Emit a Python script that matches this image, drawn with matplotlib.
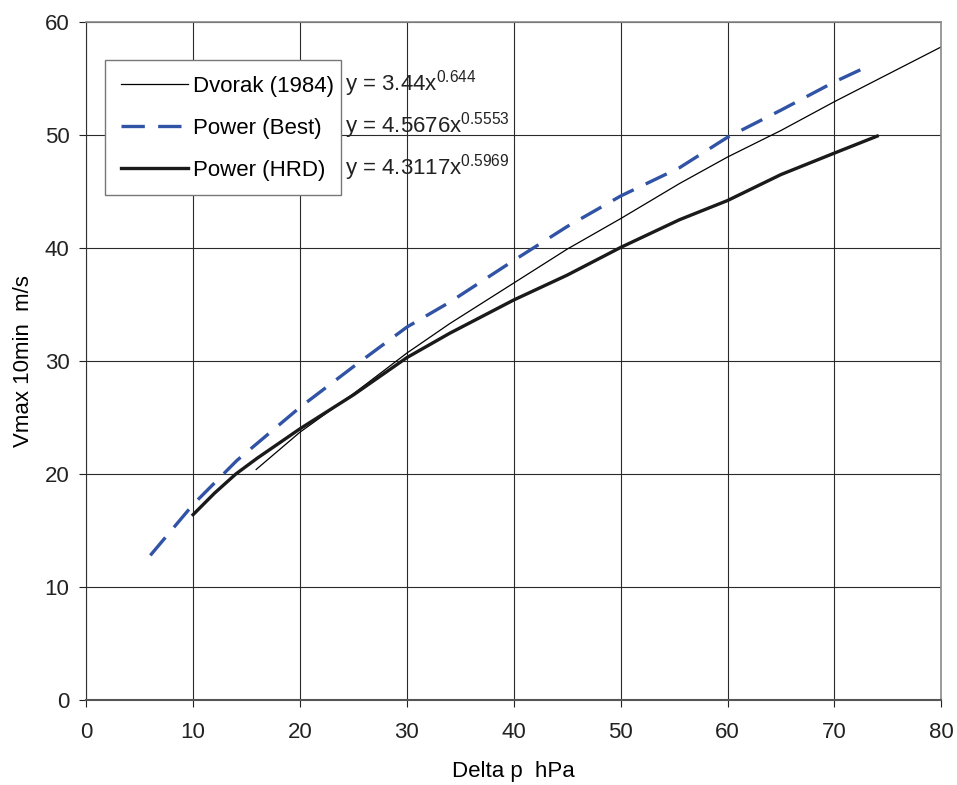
import matplotlib
matplotlib.use("Agg")
import matplotlib.pyplot as plt
from matplotlib.patches import Rectangle

plt.rcParams['font.family'] = ['Liberation Sans', 'DejaVu Sans']
plt.rcParams['mathtext.default'] = 'regular'

# Dvorak (1984)
dvorak_x = [15.9, 20, 25, 30, 34, 40, 45, 50, 55.5, 60, 65, 70, 80]
dvorak_y = [20.4, 23.7, 27.1, 30.7, 33.3, 36.9, 39.9, 42.6, 45.7, 48.05, 50.4, 52.95, 57.8]

# Power (Best)
best_x = [6, 10, 14.1, 20, 25, 30, 34, 40, 45, 50, 55.5, 60, 65, 70, 72.5]
best_y = [12.8, 17.3, 21.2, 25.9, 29.5, 33.0, 35.2, 38.9, 41.9, 44.6, 47.1, 49.8, 52.2, 54.7, 55.8]

# Power (HRD)
hrd_x = [10, 12, 14, 16, 20, 25, 30, 34, 40, 45, 50, 55.5, 60, 65, 70, 74]
hrd_y = [16.4, 18.3, 20.0, 21.4, 24.0, 27.0, 30.3, 32.45, 35.4, 37.6, 40.05, 42.5, 44.2, 46.5, 48.4, 49.9]

labels = ['Dvorak (1984)', 'Power (Best)', 'Power (HRD)']
equations = [r'y = 3.44x$^{0.644}$', r'y = 4.5676x$^{0.5553}$', r'y = 4.3117x$^{0.5969}$']

xticks = [0, 10, 20, 30, 40, 50, 60, 70, 80]
yticks = [0, 10, 20, 30, 40, 50, 60]

W, H = 957, 785
fig = plt.figure(figsize=(W/100, H/100), dpi=100)
ax = fig.add_axes([86.2/W, 1 - 700/H, (941.3 - 86.2)/W, 678/H])

ax.set_xlim(0, 80)
ax.set_ylim(0, 60)
ax.set_xticks(xticks)
ax.set_yticks(yticks)
ax.grid(True, color='#2a2a2a', linewidth=0.8)
ax.set_axisbelow(True)

l1, = ax.plot(dvorak_x, dvorak_y, color='black', linewidth=0.9)
l2, = ax.plot(best_x, best_y, color='#3153a5', linewidth=2.4, dashes=(7.0, 4.0))
l3, = ax.plot(hrd_x, hrd_y, color='#1a1a1a', linewidth=2.4)

for s in ['top', 'right']:
    ax.spines[s].set_color('#8a8a8a')
    ax.spines[s].set_linewidth(1.2)
ax.spines['left'].set_color('#333333')
ax.spines['bottom'].set_color('#555555')
ax.spines['bottom'].set_linewidth(1.5)

ax.tick_params(axis='both', direction='out', length=5, width=0.8, labelsize=16, colors='#222222')
ax.tick_params(axis='x', pad=11)
ax.tick_params(axis='y', pad=7)

ax.set_xlabel('Delta p  hPa', fontsize=16, labelpad=13)
ax.set_ylabel('Vmax 10min  m/s', fontsize=16, labelpad=8)

# legend frame drawn separately (asymmetric padding as in the original)
frame = Rectangle((105.3/W, 1 - 195/H), (341 - 105.3)/W, (195 - 60)/H,
                  transform=fig.transFigure, facecolor='white', edgecolor='#777777',
                  linewidth=1.0, zorder=4, clip_on=False)
ax.add_patch(frame)

leg = ax.legend([l1, l2, l3], labels, loc='upper left', bbox_to_anchor=(0.0223, 0.944),
                borderaxespad=0, fontsize=16, handlelength=3.0, handletextpad=0.25,
                labelspacing=0.95, borderpad=0.72, frameon=False)
leg.set_zorder(5)

eq_y = [84, 126, 168]
for eq, py in zip(equations, eq_y):
    ax.text((345 - 86.2)/(941.3 - 86.2), (700 - py)/678, eq, transform=ax.transAxes,
            fontsize=16, va='center', ha='left', color='#222222', zorder=6)

fig.savefig('out.png', dpi=100)
